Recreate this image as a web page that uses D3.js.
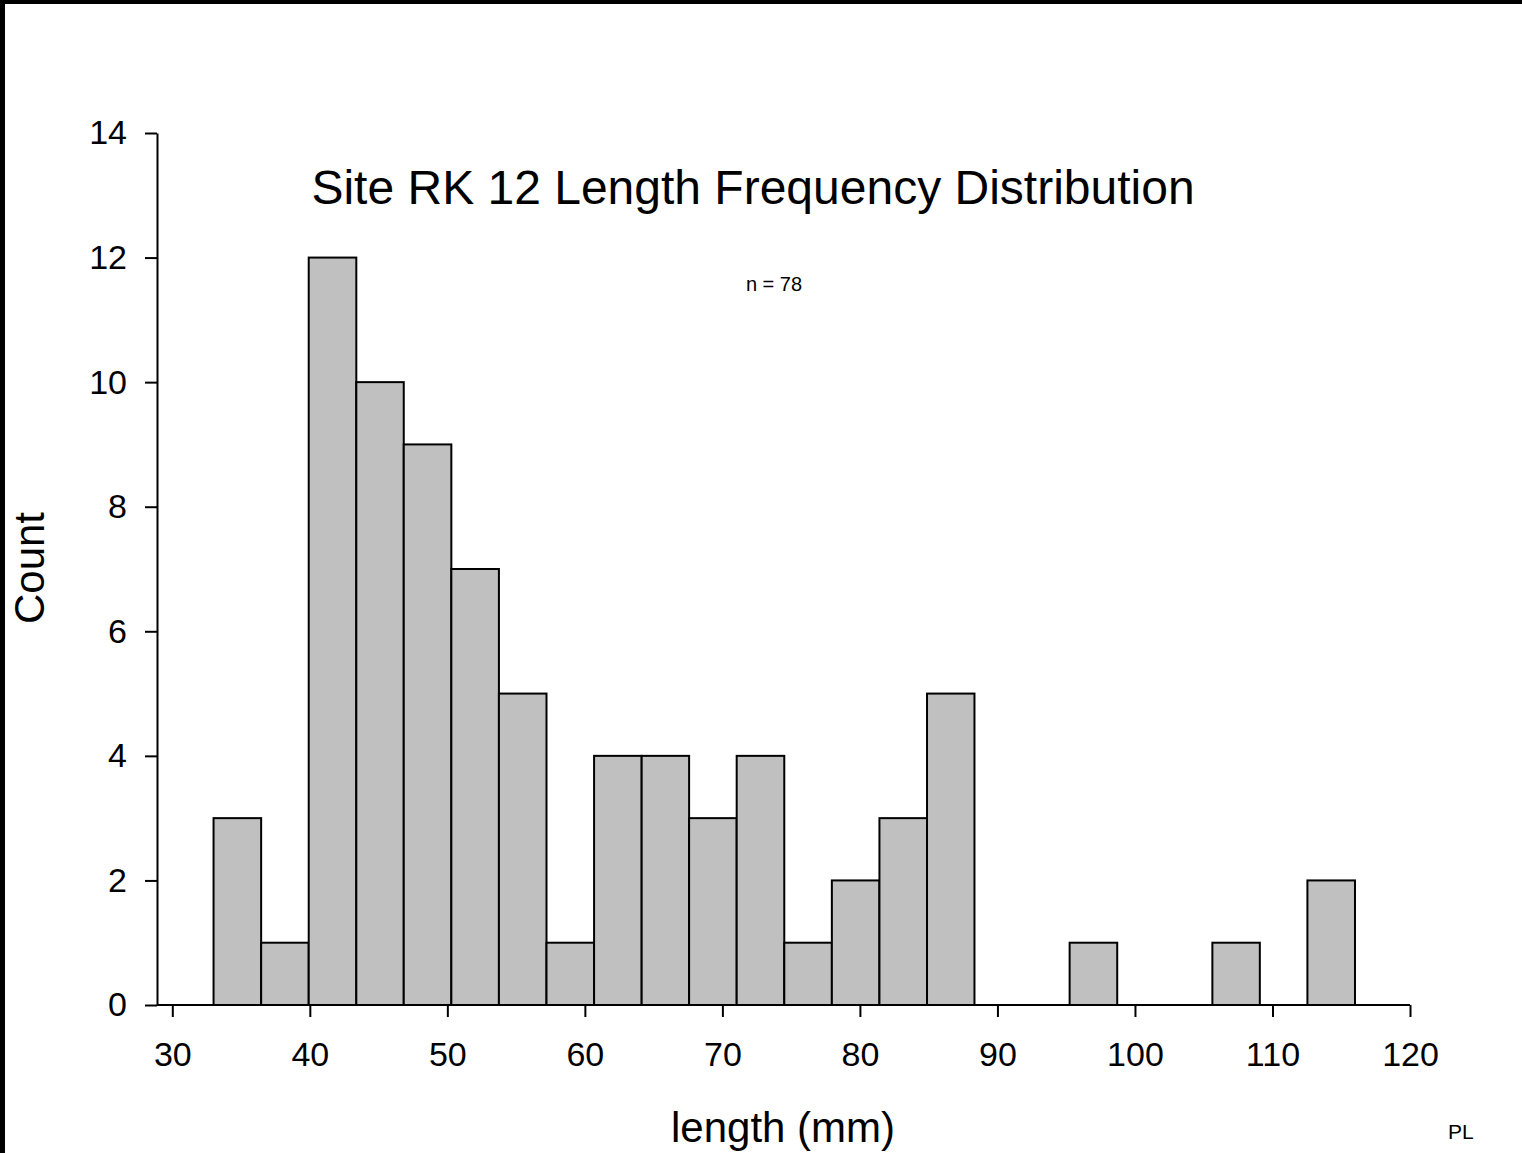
<!DOCTYPE html>
<html>
<head>
<meta charset="utf-8">
<script src="https://cdn.jsdelivr.net/npm/d3@7"></script>
<style>
	body { margin: 0; background: #fff; }
	svg { display: block; font-family: "Liberation Sans", Arial, sans-serif; }
	.bar { fill: #c0c0c0; stroke: #000; stroke-width: 2; }
	.axis path, .axis line { stroke: #000; stroke-width: 2; }
	.axis text { font-size: 34px; fill: #000; }
</style>
</head>
<body>
<div class="container"></div>
<script>

// bin edges (mm) and counts per bin
var binEdges = [33, 36.46, 39.92, 43.38, 46.83, 50.29, 53.75, 57.21, 60.67, 64.13, 67.58, 71.04,
	74.5, 77.96, 81.42, 84.88, 88.33, 91.79, 95.25, 98.71, 102.17, 105.63, 109.08, 112.54, 116];
var counts = [3, 1, 12, 10, 9, 7, 5, 1, 4, 4, 3, 4, 1, 2, 3, 5, 0, 0, 1, 0, 0, 1, 0, 2];
var xTicks = [30, 40, 50, 60, 70, 80, 90, 100, 110, 120];
var yTicks = [0, 2, 4, 6, 8, 10, 12, 14];
var title = 'Site RK 12 Length Frequency Distribution';
var sampleLabel = 'n = 78';

var WIDTH = 1522, HEIGHT = 1153;
var LEFT = 157, RIGHT = 1410, TOP = 133, BOTTOM = 1005;

var xScale = d3.scaleLinear().domain([30, 120]).range([172.3, RIGHT]);
var yScale = d3.scaleLinear().domain([0, 14]).range([BOTTOM, TOP]);

var svg = d3.select('.container').append('svg')
	.attr('width', WIDTH)
	.attr('height', HEIGHT);

svg.append('rect').attr('x', 0).attr('y', 0).attr('width', WIDTH).attr('height', HEIGHT).attr('fill', '#fff');
// black frame edges of the original capture
svg.append('rect').attr('x', 0).attr('y', 0).attr('width', WIDTH).attr('height', 4).attr('fill', '#000');
svg.append('rect').attr('x', 0).attr('y', 0).attr('width', 5).attr('height', HEIGHT).attr('fill', '#000');

var bins = counts.map(function(c, i) {
	return {x0: binEdges[i], x1: binEdges[i + 1], count: c};
}).filter(function(d) { return d.count > 0; });

svg.append('g').selectAll('rect').data(bins)
	.enter()
	.append('rect')
	.attr('class', 'bar')
	.attr('x', function(d) { return xScale(d.x0); })
	.attr('y', function(d) { return yScale(d.count); })
	.attr('width', function(d) { return xScale(d.x1) - xScale(d.x0); })
	.attr('height', function(d) { return yScale(0) - yScale(d.count); });

// axes
var xAxis = d3.axisBottom(xScale).tickValues(xTicks).tickSize(12).tickPadding(25).tickSizeOuter(0);
var yAxis = d3.axisLeft(yScale).tickValues(yTicks).tickSize(12).tickPadding(18).tickSizeOuter(0);

var gx = svg.append('g').attr('class', 'axis').attr('transform', 'translate(0,' + BOTTOM + ')').call(xAxis);
gx.select('.domain').attr('d', 'M' + LEFT + ',0H' + RIGHT);
gx.selectAll('text').attr('font-family', null);

var gy = svg.append('g').attr('class', 'axis').attr('transform', 'translate(' + LEFT + ',0)').call(yAxis);
gy.selectAll('text').attr('font-family', null);

// titles
svg.append('text')
	.attr('x', 753).attr('y', 204)
	.attr('text-anchor', 'middle')
	.attr('font-size', 48)
	.text(title);

svg.append('text')
	.attr('x', 774).attr('y', 291)
	.attr('text-anchor', 'middle')
	.attr('font-size', 20)
	.text(sampleLabel);

svg.append('text')
	.attr('x', 783).attr('y', 1142)
	.attr('text-anchor', 'middle')
	.attr('font-size', 42)
	.text('length (mm)');

svg.append('text')
	.attr('transform', 'translate(44,568) rotate(-90)')
	.attr('text-anchor', 'middle')
	.attr('font-size', 42)
	.text('Count');

svg.append('text')
	.attr('x', 1448).attr('y', 1139)
	.attr('font-size', 21)
	.text('PL');

</script>
</body>
</html>
